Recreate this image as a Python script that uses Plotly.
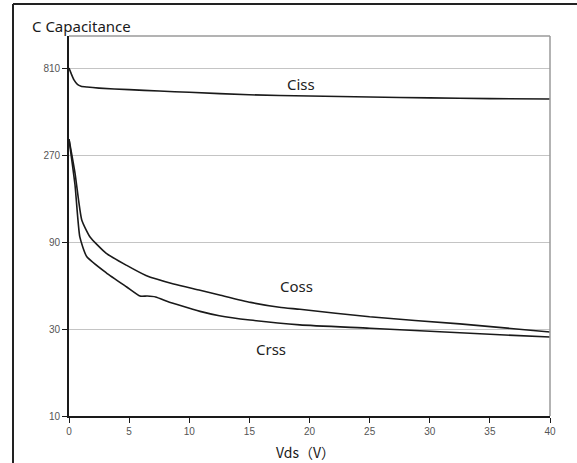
import math
import plotly.graph_objects as go

# ---- data ----
ciss_v = [0, 0.2, 0.4, 0.7, 1.0, 1.5, 2.5, 5, 7.5, 10, 15, 20, 25, 30, 35, 40]
ciss_c = [810, 750, 700, 660, 645, 638, 629, 617, 606, 597, 578, 569, 562, 556, 551, 548]

coss_v = [0, 0.5, 1.06, 1.75, 3.1, 4.8, 6.4, 8.7, 10.9, 12.6, 15.1, 17.5, 19.2, 25, 32.5, 40]
coss_c = [330, 215, 119, 96, 78, 67, 59, 53, 49, 46, 42, 39.5, 38.5, 35, 32, 28.9]

crss_v = [0, 0.5, 0.9, 1.47, 3.1, 4.8, 5.9, 6.5, 7.2, 8.2, 9.2, 10.9, 12.5, 15.05, 19.2, 25, 32.5, 40]
crss_c = [330, 185, 96, 75, 61, 51, 45.5, 45.5, 45, 42.5, 40.5, 37.5, 35.5, 33.6, 31.6, 30.3, 28.6, 27.1]

y_ticks = [10, 30, 90, 270, 810]
x_ticks = [0, 5, 10, 15, 20, 25, 30, 35, 40]

labels = [("Ciss", 19.3, 665), ("Coss", 18.9, 51.5), ("Crss", 16.8, 23.2)]

fig = go.Figure()
line = dict(color="#1a1a1a", width=1.6, shape="spline", smoothing=0.5)
for name, xv, yv in [("Ciss", ciss_v, ciss_c), ("Coss", coss_v, coss_c), ("Crss", crss_v, crss_c)]:
    fig.add_trace(go.Scatter(x=xv, y=yv, mode="lines", name=name, line=line,
                             showlegend=False, hoverinfo="skip"))

for txt, lx, ly in labels:
    fig.add_annotation(x=lx, y=math.log10(ly), text=txt, showarrow=False, xref="x", yref="y",
                       font=dict(family="Noto Sans, Open Sans, sans-serif", size=15, color="#222"))

W, H = 577, 463
L, R, T, B = 69, 27, 36, 47
pw, ph = W - L - R, H - T - B

def ux(px):
    return (px - L) / pw

def vy(py):
    return (H - B - py) / ph

shapes = [
    dict(type="line", xref="paper", yref="paper", x0=0, x1=1, y0=1, y1=1,
         line=dict(color="#9a9a9a", width=1.5)),
    dict(type="line", xref="paper", yref="paper", x0=1, x1=1, y0=0, y1=1,
         line=dict(color="#9a9a9a", width=1.5)),
    dict(type="line", xref="paper", yref="paper", x0=ux(13), x1=ux(13), y0=vy(470), y1=vy(4),
         line=dict(color="#222", width=2)),
    dict(type="line", xref="paper", yref="paper", x0=ux(13), x1=ux(590), y0=vy(4), y1=vy(4),
         line=dict(color="#222", width=2)),
]

fig.add_annotation(x=ux(30), y=vy(26), xref="paper", yref="paper", text="C Capacitance",
                   showarrow=False, xanchor="left", yanchor="middle",
                   font=dict(family="Noto Sans, Open Sans, sans-serif", size=15, color="#1a1a1a"))
fig.add_annotation(x=ux(305), y=vy(452), xref="paper", yref="paper", text="Vds（V）",
                   showarrow=False, xanchor="center", yanchor="middle",
                   font=dict(family="Noto Sans CJK SC, Noto Sans, sans-serif", size=14, color="#1a1a1a"))

fig.update_layout(
    width=W, height=H, autosize=False,
    margin=dict(l=L, r=R, t=T, b=B),
    paper_bgcolor="white", plot_bgcolor="white",
    shapes=shapes,
)
fig.update_xaxes(range=[0, 40], tickvals=x_ticks, ticktext=[str(t) for t in x_ticks],
                 showgrid=False, zeroline=False, showline=True, linecolor="#1a1a1a", linewidth=1.6,
                 ticks="outside", ticklen=5, tickcolor="#1a1a1a", tickwidth=1.2,
                 tickfont=dict(family="Liberation Sans, Arial, sans-serif", size=10, color="#555"))
fig.update_yaxes(type="log", range=[1, 3.0846], tickvals=y_ticks, ticktext=[str(t) for t in y_ticks],
                 showgrid=True, gridcolor="#c4c4c4", gridwidth=1.2, zeroline=False,
                 showline=True, linecolor="#1a1a1a", linewidth=1.6,
                 ticks="outside", ticklen=5, tickcolor="#1a1a1a", tickwidth=1.2,
                 tickfont=dict(family="Liberation Sans, Arial, sans-serif", size=10, color="#555"))

fig.write_html("out.html")
